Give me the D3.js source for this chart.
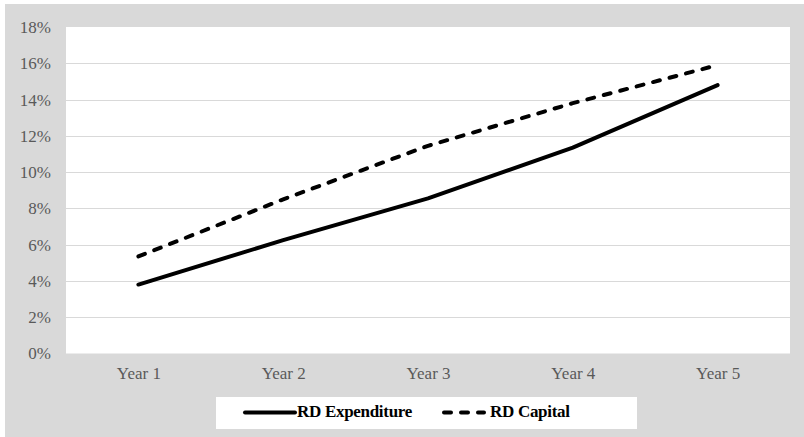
<!DOCTYPE html>
<html>
<head>
<meta charset="utf-8">
<script src="https://cdn.jsdelivr.net/npm/d3@7/dist/d3.min.js"></script>
<style>
  html, body { margin: 0; padding: 0; background: #ffffff; }
  svg { display: block; }
</style>
</head>
<body>
<svg id="chart" width="804" height="437"></svg>
<script>
// Category labels and series values (percent)
const years = ["Year 1", "Year 2", "Year 3", "Year 4", "Year 5"];
const rdExpenditure = [3.8, 6.25, 8.55, 11.35, 14.8];
const rdCapital = [5.35, 8.5, 11.45, 13.8, 15.9];
const yTicks = [0, 2, 4, 6, 8, 10, 12, 14, 16, 18];
const seriesNames = ["RD Expenditure", "RD Capital"];

const FONT = '"Liberation Serif"';
const svg = d3.select("#chart");

// chart background
svg.append("rect")
  .attr("x", 5).attr("y", 4)
  .attr("width", 799).attr("height", 433)
  .attr("fill", "#d9d9d9");

const plot = { left: 66, right: 790, top: 27, bottom: 353.5 };

svg.append("rect")
  .attr("x", plot.left).attr("y", plot.top)
  .attr("width", plot.right - plot.left)
  .attr("height", plot.bottom - plot.top)
  .attr("fill", "#ffffff");

const x = d3.scalePoint()
  .domain(years)
  .range([plot.left, plot.right])
  .padding(0.5);

const y = d3.scaleLinear()
  .domain([0, 18])
  .range([plot.bottom, plot.top]);

// horizontal gridlines
svg.append("g")
  .selectAll("line")
  .data(yTicks.filter(t => t > 0 && t < 18))
  .join("line")
  .attr("x1", plot.left).attr("x2", plot.right)
  .attr("y1", d => Math.round(y(d)) + 0.5)
  .attr("y2", d => Math.round(y(d)) + 0.5)
  .attr("stroke", "#d9d9d9")
  .attr("stroke-width", 1);

// y axis labels
const yAxis = d3.axisLeft(y)
  .tickValues(yTicks)
  .tickFormat(d => d + "%")
  .tickSize(0)
  .tickPadding(15);

const gy = svg.append("g")
  .attr("transform", `translate(${plot.left},0)`)
  .call(yAxis);
gy.select(".domain").remove();
gy.selectAll("text")
  .style("font-family", FONT)
  .style("font-size", "17px")
  .attr("fill", "#595959");

// x axis labels
const xAxis = d3.axisBottom(x).tickSize(0).tickPadding(13);
const gx = svg.append("g")
  .attr("transform", `translate(0,${plot.bottom})`)
  .call(xAxis);
gx.select(".domain").remove();
gx.selectAll("text")
  .style("font-family", FONT)
  .style("font-size", "17px")
  .attr("fill", "#595959");

// series lines
const line = d3.line()
  .x((d, i) => x(years[i]))
  .y(d => y(d));

svg.append("path")
  .datum(rdExpenditure)
  .attr("d", line)
  .attr("fill", "none")
  .attr("stroke", "#000000")
  .attr("stroke-width", 4)
  .attr("stroke-linecap", "round")
  .attr("stroke-linejoin", "round");

svg.append("path")
  .datum(rdCapital)
  .attr("d", line)
  .attr("fill", "none")
  .attr("stroke", "#000000")
  .attr("stroke-width", 4)
  .attr("stroke-dasharray", "7,10")
  .attr("stroke-linecap", "round")
  .attr("stroke-linejoin", "round");

// legend
const legend = svg.append("g");
legend.append("rect")
  .attr("x", 216).attr("y", 397)
  .attr("width", 421).attr("height", 32)
  .attr("fill", "#ffffff");

const legendItems = [
  { name: seriesNames[0], x1: 245, x2: 295, dash: null, tx: 297 },
  { name: seriesNames[1], x1: 444, x2: 484, dash: "7,10", tx: 490 }
];

legendItems.forEach(it => {
  legend.append("line")
    .attr("x1", it.x1).attr("x2", it.x2)
    .attr("y1", 412.5).attr("y2", 412.5)
    .attr("stroke", "#000000")
    .attr("stroke-width", 4)
    .attr("stroke-linecap", "round")
    .attr("stroke-dasharray", it.dash);
  legend.append("text")
    .attr("x", it.tx).attr("y", 417)
    .style("font-family", FONT)
    .style("font-size", "17px")
    .style("font-weight", "bold")
    .style("letter-spacing", "-0.3px")
    .attr("fill", "#000000")
    .text(it.name);
});
</script>
</body>
</html>
